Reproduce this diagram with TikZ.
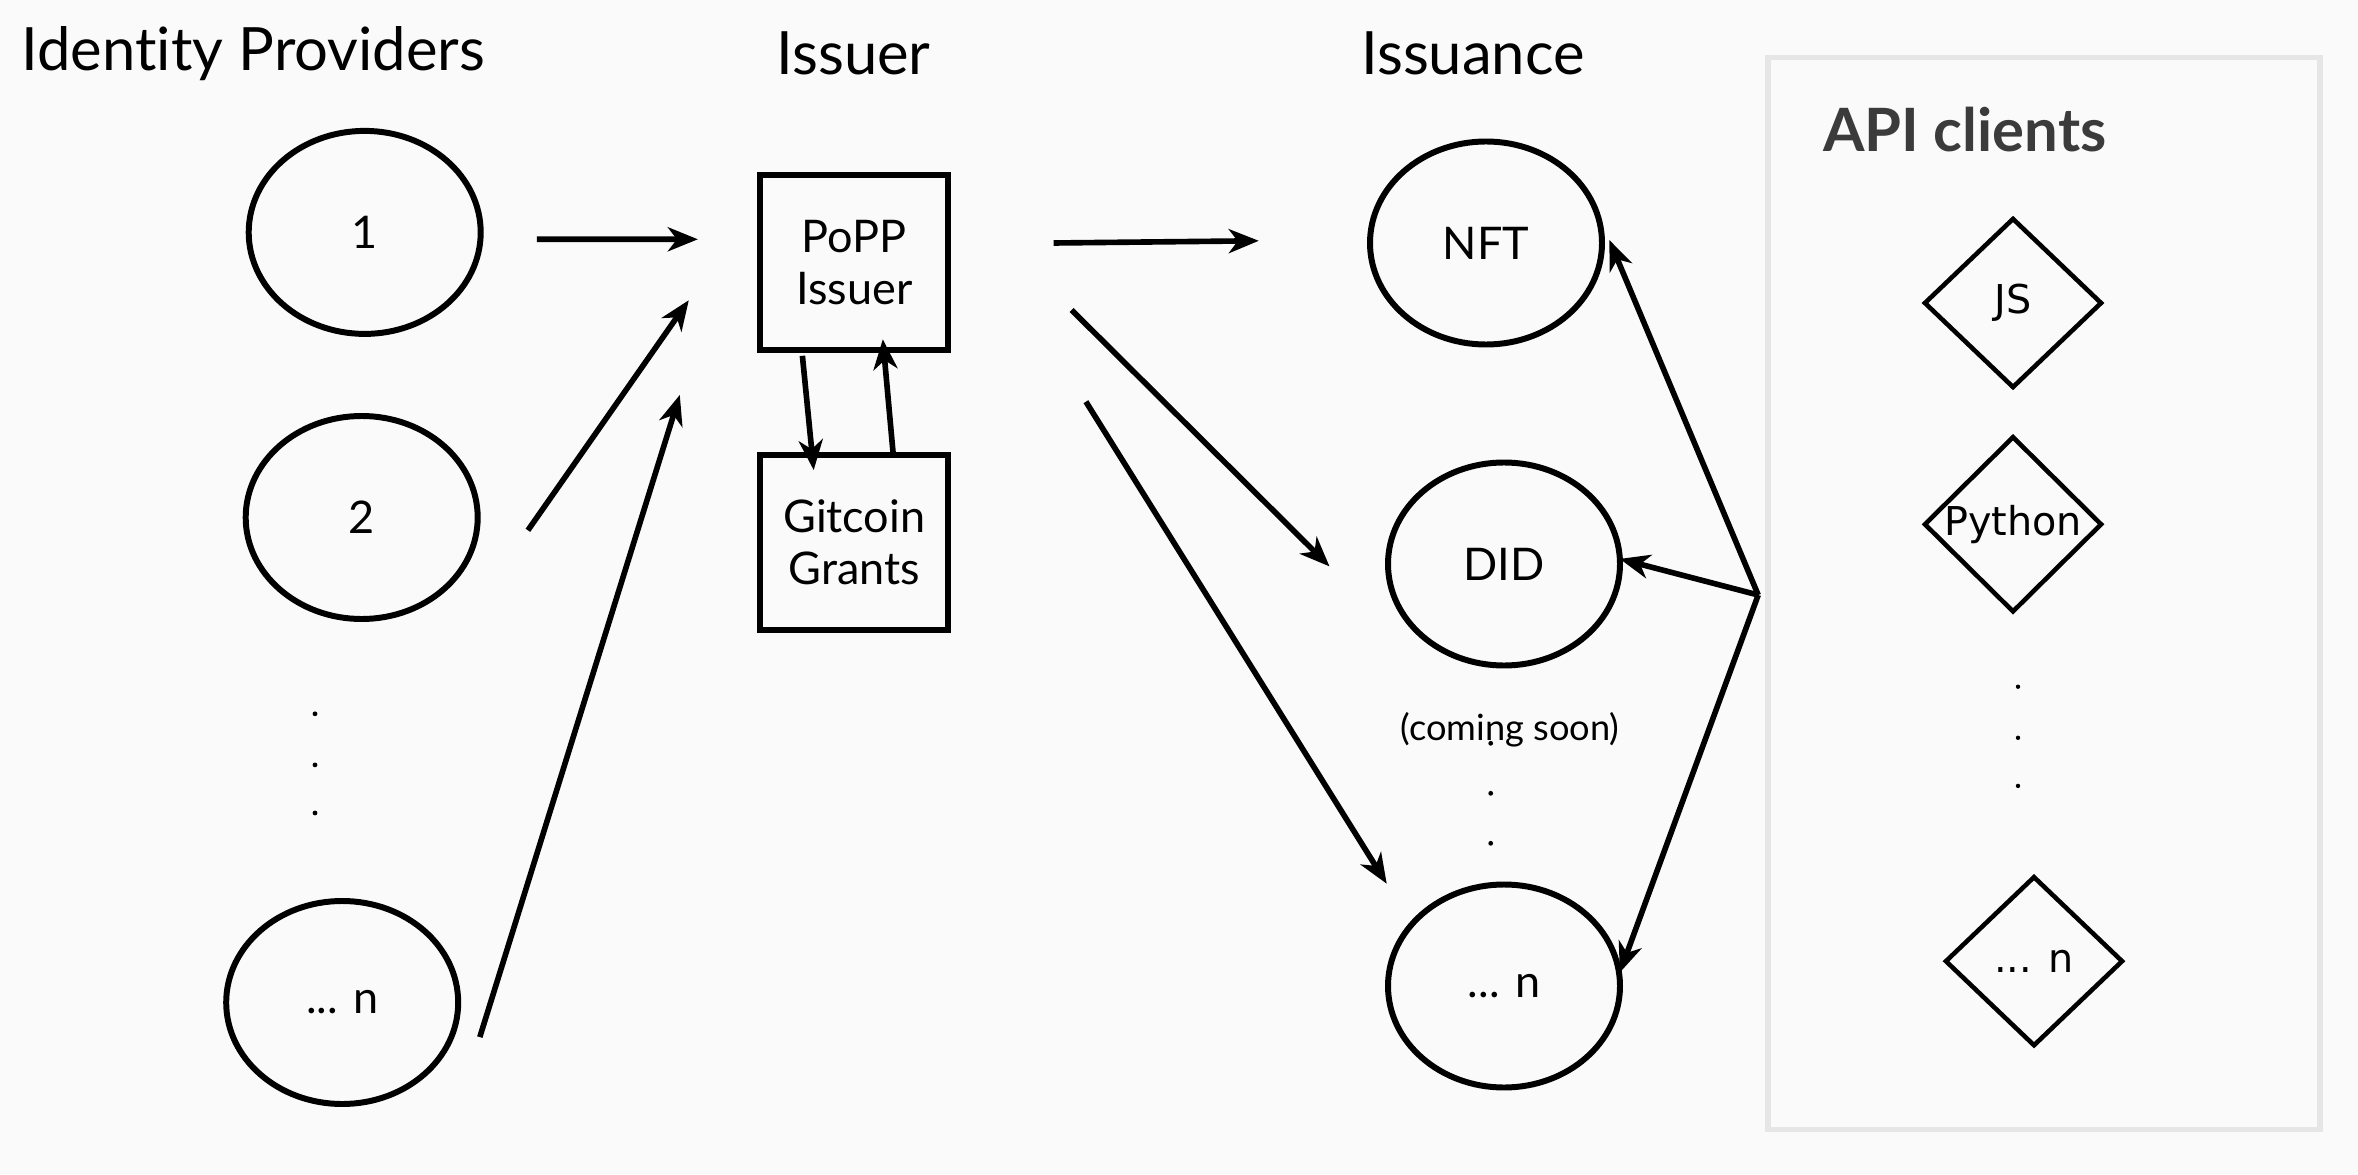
\documentclass[tikz,border=0pt]{standalone}
\usepackage{fontspec}
\setmainfont{Lato}[Ligatures=NoCommon]
\newfontfamily\clientfont{DejaVu Sans}
\usepackage{xcolor}
\usetikzlibrary{shapes.geometric,arrows.meta,positioning,calc}
\definecolor{pagebg}{HTML}{FAFAFA}
\definecolor{panelgray}{HTML}{E6E6E6}
\definecolor{titlegray}{HTML}{3B3B3B}

\begin{document}
\begin{tikzpicture}[-,
                    thick,
                    main node/.style={ellipse,draw,line width=1.7pt,minimum width=2.32cm,minimum height=2.03cm,inner sep=0pt,font=\fontsize{12.8}{15}\selectfont},
                    box node/.style={rectangle,draw,line width=1.7pt,minimum width=1.88cm,minimum height=1.75cm,inner sep=0pt,align=center,font=\fontsize{12.8}{15}\selectfont},
                    client node/.style={diamond,draw,line width=1.3pt,minimum width=1.78cm,minimum height=1.70cm,inner sep=0pt,font=\clientfont\fontsize{11.3}{13}\selectfont},
                    head label/.style={font=\fontsize{17}{20}\selectfont},
                    flow/.style={line width=1.6pt,-{Stealth[length=3mm,width=2.4mm,inset=0.9mm]}}]
\fill[pagebg] (0,0) rectangle (23.58,11.74);
\useasboundingbox (0,0) rectangle (23.58,11.74);

% panel of the clients
\node[draw=panelgray,line width=1.5pt,minimum width=5.52cm,minimum height=10.72cm] (ApiPanel) at (20.44,5.805) {};
\node[anchor=west,text=titlegray,font=\bfseries\fontsize{17}{20}\selectfont] (ApiLabel) at (18.10,10.44) {API clients};

% column titles
\node[head label] (ProvidersLabel) at (2.534,11.204) {Identity Providers};
\node[head label] (IssuerLabel) at (8.535,11.204) {Issuer};
\node[head label] (IssuanceLabel) at (14.73,11.204) {Issuance};

\node[main node] (Provider1) at (3.647,9.416) {1};
\node[main node] (Provider2) at (3.617,6.565) {2};
\node[main node] (ProviderN) at (3.422,1.715) {... n};
\foreach \y in {4.602,4.091,3.61}
   \fill (3.15,\y) circle (0.024);

\node[box node] (PoppIssuer) at (8.543,9.114) {PoPP\\Issuer};
\node[box node] (Gitcoin) at (8.543,6.317) {Gitcoin\\Grants};

\node[main node] (NFT) at (14.86,9.31) {NFT};
\node[main node] (DID) at (15.04,6.10) {DID};
\node[main node] (IssuanceN) at (15.04,1.88) {... n};
\node[font=\fontsize{10.3}{12}\selectfont] (ComingSoon) at (15.10,4.44) {(coming soon)};
\foreach \y in {4.307,3.807,3.307}
   \fill (14.907,\y) circle (0.024);

\node[client node] (JS) at (20.13,8.71) {JS};
\node[client node] (Python) at (20.13,6.497) {Python};
\node[client node] (ClientN) at (20.34,2.128) {... n};
\foreach \y in {4.873,4.362,3.881}
   \fill (20.18,\y) circle (0.022);

% arrow ends
\coordinate (P1Start) at ([shift={(1.722,-0.069)}]Provider1.center);
\coordinate (P1End) at ([shift={(-1.564,0.233)}]PoppIssuer.center);
\coordinate (P2Start) at ([shift={(1.662,-0.128)}]Provider2.center);
\coordinate (P2End) at ([shift={(-1.655,-0.376)}]PoppIssuer.center);
\coordinate (PNStart) at ([shift={(1.376,-0.346)}]ProviderN.center);
\coordinate (PNEnd) at ([shift={(-1.745,-1.323)}]PoppIssuer.center);
\coordinate (DownStart) at ([shift={(-0.519,-0.932)}]PoppIssuer.center);
\coordinate (DownEnd) at ([shift={(-0.406,0.722)}]Gitcoin.center);
\coordinate (UpStart) at ([shift={(0.391,0.857)}]Gitcoin.center);
\coordinate (UpEnd) at ([shift={(0.285,-0.767)}]PoppIssuer.center);
\coordinate (NFTStart) at ([shift={(1.993,0.196)}]PoppIssuer.center);
\coordinate (NFTEnd) at ([shift={(-2.272,0.022)}]NFT.center);
\coordinate (DIDStart) at ([shift={(2.173,-0.474)}]PoppIssuer.center);
\coordinate (DIDEnd) at ([shift={(-1.745,-0.024)}]DID.center);
\coordinate (INStart) at ([shift={(2.316,-1.391)}]PoppIssuer.center);
\coordinate (INEnd) at ([shift={(-1.173,1.023)}]IssuanceN.center);
\coordinate (ApiHub) at (17.582,5.79);
\coordinate (ApiNFT) at ([shift={(1.233,0.030)}]NFT.center);
\coordinate (ApiDID) at ([shift={(1.158,0.051)}]DID.center);
\coordinate (ApiIN) at ([shift={(1.158,0.135)}]IssuanceN.center);

\draw[flow] (P1Start)--(P1End);
\draw[flow] (P2Start)--(P2End);
\draw[flow] (PNStart)--(PNEnd);
\draw[flow] (DownStart)--(DownEnd);
\draw[flow] (UpStart)--(UpEnd);
\draw[flow] (NFTStart)--(NFTEnd);
\draw[flow] (DIDStart)--(DIDEnd);
\draw[flow] (INStart)--(INEnd);
\foreach \t in {ApiNFT,ApiDID,ApiIN}
   \draw[flow] (ApiHub)--(\t);
\end{tikzpicture}
\end{document}
